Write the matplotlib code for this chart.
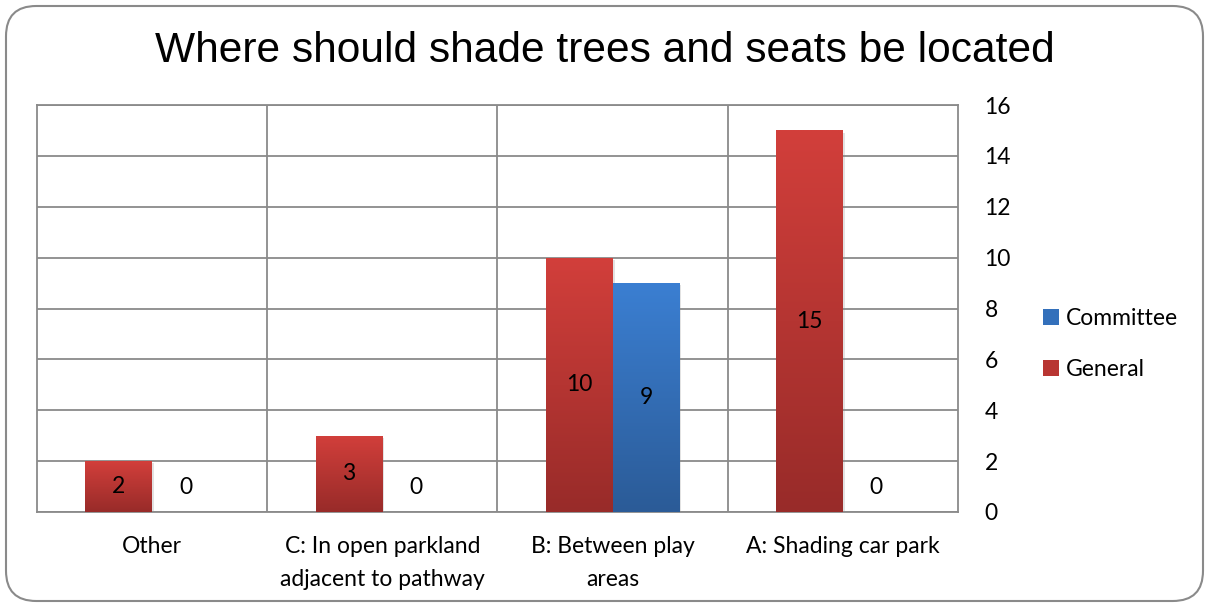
import matplotlib.pyplot as plt
import numpy as np
from matplotlib.patches import FancyBboxPatch, Patch
from matplotlib.colors import LinearSegmentedColormap
import matplotlib.patheffects as pe

categories = ["Other", "C: In open parkland\nadjacent to pathway",
              "B: Between play\nareas", "A: Shading car park"]
general = [2, 3, 10, 15]
committee = [0, 0, 9, 0]
yticks = [0, 2, 4, 6, 8, 10, 12, 14, 16]

body_font = ["Lato", "DejaVu Sans"]
fs = 16.5
red_cmap = LinearSegmentedColormap.from_list("r", ["#982b29", "#d23f3b"])
blue_cmap = LinearSegmentedColormap.from_list("b", ["#2b5b97", "#3b7fd2"])

fig = plt.figure(figsize=(12.09, 6.07), dpi=100)
W, H = 1209, 607

# rounded chart border
border = FancyBboxPatch((6 / W, 6 / H), 1 - 12 / W, 1 - 12 / H,
                        boxstyle="round,pad=0,rounding_size=0.025",
                        transform=fig.transFigure, facecolor="white",
                        edgecolor="#8a8a8a", linewidth=1.5, mutation_aspect=W / H,
                        zorder=-10)
fig.patches.append(border)

ax = fig.add_axes([37 / W, (H - 512) / H, 921 / W, 407 / H])
ax.set_facecolor("none")

x = np.arange(len(categories))
bw = 0.29


def gradient_bars(xs, vals, cmap):
    shadow = pe.SimplePatchShadow(offset=(1.5, -1.5), shadow_rgbFace="0.55", alpha=0.25)
    bars = ax.bar(xs, vals, width=bw, color=cmap(0.5), zorder=3,
                  path_effects=[shadow, pe.Normal()])
    grad = np.linspace(0, 1, 256).reshape(-1, 1)
    for b in bars:
        if b.get_height() <= 0:
            continue
        x0, w, h = b.get_x(), b.get_width(), b.get_height()
        im = ax.imshow(grad, extent=[x0, x0 + w, 0, h], origin="lower",
                       aspect="auto", cmap=cmap, zorder=4)
        im.set_clip_path(b)
    return bars


gb = gradient_bars(x - bw / 2, general, red_cmap)
cb = gradient_bars(x + bw / 2, committee, blue_cmap)

for bars, vals in ((gb, general), (cb, committee)):
    for b, v in zip(bars, vals):
        cx = b.get_x() + b.get_width() / 2
        if v == 0:
            ax.annotate(str(v), (cx, 0), xytext=(0, 18), textcoords="offset points",
                        ha="center", va="center", fontsize=fs, family=body_font, zorder=6)
        else:
            ax.text(cx, v / 2, str(v), ha="center", va="center",
                    fontsize=fs, family=body_font, zorder=6)

ax.set_xlim(-0.5, len(categories) - 0.5)
ax.set_ylim(0, 16)
ax.set_yticks(yticks)
ax.yaxis.tick_right()
ax.tick_params(axis="y", length=0, pad=19, labelsize=fs)
for lab in ax.get_yticklabels():
    lab.set_family(body_font)
ax.set_xticks(x)
ax.set_xticklabels(categories, fontsize=fs, family=body_font, linespacing=1.7, va="top")
ax.tick_params(axis="x", length=0, pad=17)

ax.grid(axis="y", color="#8a8a8a", linewidth=1.3, zorder=1)
for b in np.arange(0.5, len(categories) - 1, 1.0):
    ax.axvline(b, color="#8a8a8a", linewidth=1.3, zorder=1)
for s in ax.spines.values():
    s.set_color("#8a8a8a")
    s.set_linewidth(1.3)

fig.text(0.5, (H - 51) / H, "Where should shade trees and seats be located",
         ha="center", va="center", fontsize=30.6, family=["Liberation Sans", "DejaVu Sans"])

handles = [Patch(facecolor="#3370bb", label="Committee"),
           Patch(facecolor="#b83532", label="General")]
fig.legend(handles=handles, loc="center left", bbox_to_anchor=(1022 / W, (H - 344) / H),
           frameon=False, prop={"family": body_font, "size": fs},
           handlelength=0.7, handleheight=0.7, handletextpad=0.3, labelspacing=1.3)

fig.savefig("out.png", dpi=100)
